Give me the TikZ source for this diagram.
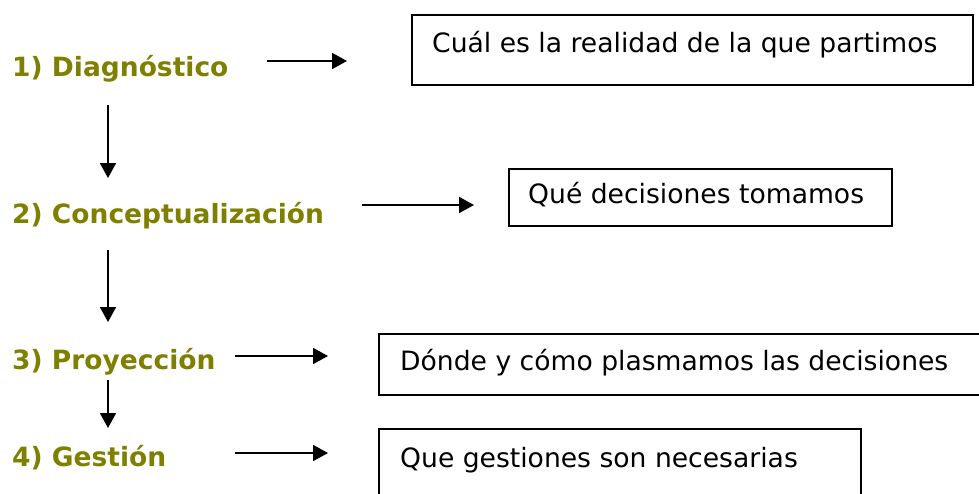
\documentclass[tikz,border=0pt]{standalone}
\usepackage{fontspec}
\setmainfont{DejaVu Sans}
\usetikzlibrary{arrows.meta, positioning}
\definecolor{phaseolive}{RGB}{128,128,0}

\begin{document}
\begin{tikzpicture}[
          x=1pt, y=-1pt, % one unit = one pixel, y downwards
          phase/.style={anchor=base west, inner sep=0pt, text=phaseolive, font=\fontsize{26.5}{30}\selectfont\bfseries},
          answer/.style={draw, line width=2pt, anchor=north west, inner sep=0pt},
          answertext/.style={anchor=base west, inner sep=0pt, font=\fontsize{26.6}{30}\selectfont},
          flow/.style={line width=1.8pt, -{Triangle[length=15pt, width=16pt]}}
        ]
        \useasboundingbox (0,0) rectangle (979,493);
        \clip (0,0) rectangle (979,493);

        % the four phases
        \node[phase] (diag) at (12,76) {1) Diagnóstico};
        \node[phase] (concept) at (12,223) {2) Conceptualización};
        \node[phase] (proy) at (12,369) {3) Proyección};
        \node[phase] (gest) at (12,466) {4) Gestión};

        % boxes on the right
        \node[answer, minimum width=561pt, minimum height=70pt] (real) at (411,14) {};
        \node[answer, minimum width=383pt, minimum height=57pt] (decis) at (508,168) {};
        \node[answer, minimum width=640pt, minimum height=61pt] (plasm) at (378,333) {}; % runs off the page
        \node[answer, minimum width=482pt, minimum height=90pt] (nec) at (378,428) {};    % runs off the page

        \node[answertext] (realtext) at (432,52) {Cuál es la realidad de la que partimos};
        \node[answertext] (decistext) at (528,203) {Qué decisiones tomamos};
        \node[answertext] (plasmtext) at (400,370) {Dónde y cómo plasmamos las decisiones};
        \node[answertext] (nectext) at (400,467) {Que gestiones son necesarias};

        % arrow ends
        \coordinate (h1a) at (267,61);  \coordinate (h1b) at (347,61);
        \coordinate (h2a) at (362,205); \coordinate (h2b) at (474,205);
        \coordinate (h3a) at (235,356); \coordinate (h3b) at (328,356);
        \coordinate (h4a) at (235,453); \coordinate (h4b) at (328,453);
        \coordinate (v1a) at (108,105); \coordinate (v1b) at (108,178);
        \coordinate (v2a) at (108,250); \coordinate (v2b) at (108,322);
        \coordinate (v3a) at (108,380); \coordinate (v3b) at (108,428);

        \draw[flow] (h1a) -- (h1b);
        \draw[flow] (h2a) -- (h2b);
        \draw[flow] (h3a) -- (h3b);
        \draw[flow] (h4a) -- (h4b);
        \draw[flow] (v1a) -- (v1b);
        \draw[flow] (v2a) -- (v2b);
        \draw[flow] (v3a) -- (v3b);
        \end{tikzpicture}
\end{document}
